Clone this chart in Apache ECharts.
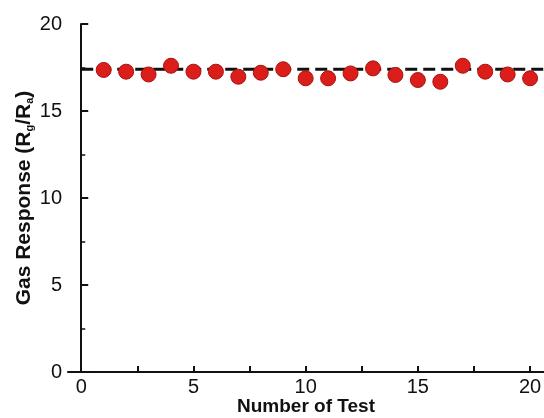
<!DOCTYPE html>
<html><head><meta charset="utf-8">
<script src="https://cdn.jsdelivr.net/npm/echarts@6/dist/echarts.min.js"></script>
<style>html,body{margin:0;padding:0;background:#fff}#c{width:544px;height:418px}</style>
</head><body><div id="c"></div>
<script>
const testNumbers = [1,2,3,4,5,6,7,8,9,10,11,12,13,14,15,16,17,18,19,20];
const responses = [17.36,17.26,17.1,17.6,17.26,17.26,16.97,17.2,17.4,16.88,16.88,17.16,17.45,17.07,16.78,16.68,17.6,17.26,17.1,16.88];
const meanLevel = 17.4;
const meanLineX = [0, 20.7];
const xTickLabels = [0,5,10,15,20];
const xTickMarks = [0,2.5,5,7.5,10,12.5,15,17.5,20];

const chart = echarts.init(document.getElementById('c'));
const font = 'Liberation Sans, Arial, sans-serif';
chart.setOption({
  animation: false,
  grid: {left: 68, right: 0, top: 24, bottom: 46, containLabel: false, outerBoundsMode: 'none'},
  xAxis: {
    type: 'value', min: -0.59, max: 20.62,
    name: 'Number of Test', nameLocation: 'middle', nameGap: 25, nameMoveOverlap: false,
    nameTextStyle: {fontFamily: font, fontWeight: 'bold', fontSize: 19, color: '#111', lineHeight: 19},
    axisLine: {show: true, lineStyle: {color: '#111', width: 2}},
    axisTick: {show: true, inside: true, length: 6, lineStyle: {color: '#111', width: 2}, customValues: xTickMarks},
    axisLabel: {fontFamily: font, fontSize: 20, color: '#111', margin: 5, customValues: xTickLabels},
    splitLine: {show: false}
  },
  yAxis: {
    type: 'value', min: 0, max: 20, interval: 5,
    name: '{t|Gas Response (R}{s|g}{t|/R}{s|a}{t|)}', nameLocation: 'middle', nameGap: 33, nameMoveOverlap: false,
    nameTextStyle: {fontFamily: font, fontWeight: 'bold', fontSize: 21, color: '#111',
      rich: {t: {fontFamily: font, fontWeight: 'bold', fontSize: 21, color: '#111'},
             s: {fontFamily: font, fontWeight: 'bold', fontSize: 11, color: '#111', padding: [10,0,0,0]}}},
    axisLine: {show: true, lineStyle: {color: '#111', width: 2}},
    axisTick: {show: true, inside: true, length: 7, lineStyle: {color: '#111', width: 2}},
    minorTick: {show: true, splitNumber: 2, length: 4, lineStyle: {color: '#111', width: 1.5}},
    axisLabel: {fontFamily: font, fontSize: 20, color: '#111', margin: 6},
    splitLine: {show: false}
  },
  series: [
    {
      type: 'line', data: meanLineX.map(x => [x, meanLevel]), symbol: 'none',
      lineStyle: {color: '#111', width: 2.8, type: [12, 6]}, z: 1
    },
    {
      type: 'scatter', data: testNumbers.map((x, i) => [x, responses[i]]),
      symbol: 'circle', symbolSize: 15,
      itemStyle: {color: '#dc1e1a', borderColor: '#a5120f', borderWidth: 1, opacity: 1}, z: 2
    }
  ]
});
</script></body></html>
